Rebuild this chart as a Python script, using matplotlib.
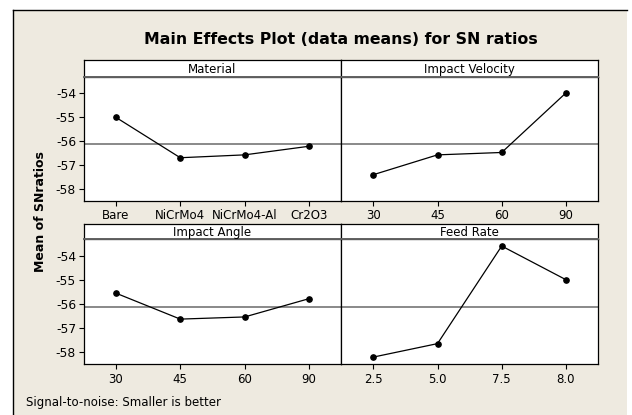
import matplotlib
matplotlib.use("Agg")
import matplotlib.pyplot as plt
from matplotlib.patches import Rectangle
from matplotlib.lines import Line2D
import numpy as np

# ---- data ----
material_levels = ["Bare", "NiCrMo4", "NiCrMo4-Al", "Cr2O3"]
material_sn = [-55.00, -56.69, -56.57, -56.21]

velocity_levels = ["30", "45", "60", "90"]
velocity_sn = [-57.40, -56.57, -56.47, -53.98]

angle_levels = ["30", "45", "60", "90"]
angle_sn = [-55.54, -56.62, -56.53, -55.77]

feed_levels = ["2.5", "5.0", "7.5", "8.0"]
feed_sn = [-58.20, -57.64, -53.58, -54.98]

factor_names = ["Material", "Impact Velocity", "Impact Angle", "Feed Rate"]
y_ticks = [-54, -55, -56, -57, -58]

grand_mean = float(np.mean(material_sn + velocity_sn + angle_sn + feed_sn))

W, H = 632, 415
fig = plt.figure(figsize=(W / 100, H / 100), dpi=100, facecolor="white")
plt.rcParams["font.family"] = ["DejaVu Sans"]

BG = "#EEEAE0"

def fx(px):
    return px / W

def fy(py):
    return 1 - py / H

# beige background with top/left frame lines
fig.patches.append(Rectangle((fx(13), 0), fx(627) - fx(13), fy(10), transform=fig.transFigure,
                             facecolor=BG, edgecolor="none", zorder=-10))
fig.lines.append(Line2D([fx(13), fx(627)], [fy(10), fy(10)], transform=fig.transFigure,
                        color="black", lw=1.0, zorder=-5))
fig.lines.append(Line2D([fx(13), fx(13)], [fy(10), 0], transform=fig.transFigure,
                        color="black", lw=1.0, zorder=-5))

fig.text(fx(341), fy(40), "Main Effects Plot (data means) for SN ratios", ha="center",
         va="center", fontsize=11.3, fontweight="bold")

cols = [(83.7, 341.2), (341.2, 598.0)]
rows = [((60.0, 76.7), (76.7, 201.0)), ((224.3, 239.3), (239.3, 364.3))]

panels = [
    (material_levels, material_sn),
    (velocity_levels, velocity_sn),
    (angle_levels, angle_sn),
    (feed_levels, feed_sn),
]

for i, (levels, vals) in enumerate(panels):
    r, c = divmod(i, 2)
    x0, x1 = cols[c]
    (s0, s1), (p0, p1) = rows[r]
    ax = fig.add_axes([fx(x0), fy(p1), fx(x1) - fx(x0), fy(p0) - fy(p1)])
    ax.set_facecolor("white")
    xs = np.arange(len(levels))
    ax.axhline(grand_mean, color="#808080", lw=1.3, zorder=1)
    ax.plot(xs, vals, color="black", lw=0.9, marker="o", ms=3.8, zorder=3)
    ax.set_xlim(-0.5, 3.5)
    ax.set_ylim(-58.5, -53.3)
    ax.set_xticks(xs)
    ax.set_xticklabels(levels, fontsize=8.5)
    ax.set_yticks(y_ticks)
    if c == 0:
        ax.set_yticklabels([str(t) for t in y_ticks], fontsize=8.8)
        ax.tick_params(axis="y", length=3.5, width=0.8, pad=2)
    else:
        ax.tick_params(axis="y", left=False, labelleft=False)
    ax.tick_params(axis="x", length=3.5, width=0.8, pad=2.5)
    for sp in ax.spines.values():
        sp.set_color("black")
        sp.set_linewidth(0.9)

    sax = fig.add_axes([fx(x0), fy(s1), fx(x1) - fx(x0), fy(s0) - fy(s1)])
    sax.set_facecolor("white")
    sax.set_xticks([])
    sax.set_yticks([])
    for sp in sax.spines.values():
        sp.set_color("black")
        sp.set_linewidth(0.9)
    sax.spines["bottom"].set_color("#606060")
    sax.spines["bottom"].set_linewidth(1.4)
    sax.text(0.5, 0.45, factor_names[i], transform=sax.transAxes, ha="center",
             va="center", fontsize=8.5)

fig.text(fx(40), fy(212), "Mean of SNratios", rotation=90, ha="center", va="center",
         fontsize=9, fontweight="bold")
fig.text(fx(26), fy(402), "Signal-to-noise: Smaller is better", ha="left", va="center",
         fontsize=8.5)

fig.savefig("out.png", dpi=100, facecolor="white")
